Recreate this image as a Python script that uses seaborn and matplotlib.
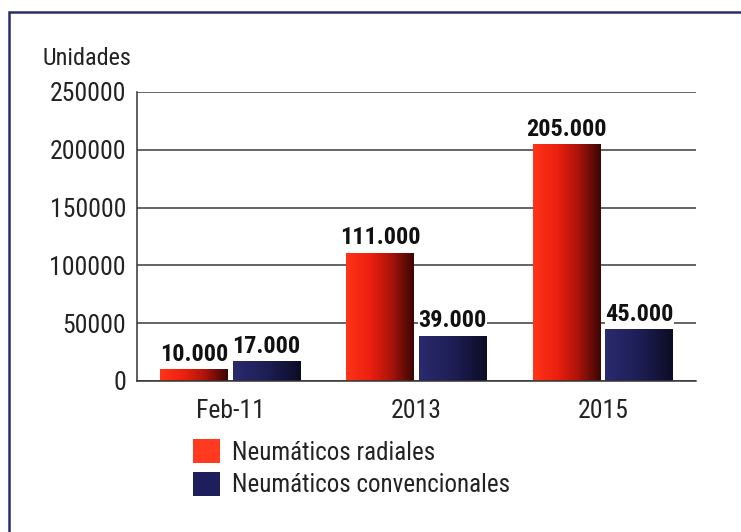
import numpy as np
import pandas as pd
import matplotlib
matplotlib.use("Agg")
import matplotlib.pyplot as plt
import seaborn as sns
from matplotlib.colors import LinearSegmentedColormap
from matplotlib.patches import Rectangle, Patch

# ---- data ----
categories = ["Feb-11", "2013", "2015"]
series_names = ["Neumáticos radiales", "Neumáticos convencionales"]
radiales = [10000, 111000, 205000]
convencionales = [17000, 39000, 45000]
yticks = [0, 50000, 100000, 150000, 200000, 250000]
y_label = "Unidades"

# ---- style ----
sns.set_theme(style="white")
plt.rcParams["font.family"] = ["Roboto Condensed", "Liberation Sans", "DejaVu Sans"]

red_base = "#ff3a1e"
navy_base = "#1e1e5c"
red_cmap = LinearSegmentedColormap.from_list(
    "red", [(0, "#ff3418"), (0.35, "#ec200f"), (0.65, "#b0140a"), (1, "#3a0604")])
navy_cmap = LinearSegmentedColormap.from_list(
    "navy", [(0, "#2a2a70"), (0.5, "#1e1e55"), (1, "#0c0c26")])

df = pd.DataFrame({
    "cat": categories * 2,
    "serie": [series_names[0]] * 3 + [series_names[1]] * 3,
    "val": radiales + convencionales,
})

fig = plt.figure(figsize=(7.41, 5.32), dpi=100)
fig.patch.set_facecolor("white")
ax = fig.add_axes([137 / 741, 1 - 381 / 532, 559 / 741, 289 / 532])

sns.barplot(data=df, x="cat", y="val", hue="serie", order=categories,
            hue_order=series_names, palette=[red_base, navy_base],
            saturation=1, width=0.78, gap=0.07, legend=False, ax=ax,
            edgecolor="none", linewidth=0)

# gradients clipped to each bar + value labels
grad = np.linspace(0, 1, 256).reshape(1, -1)
bars = [p for p in ax.patches if isinstance(p, Rectangle) and p.get_height() > 0]
for p in bars:
    x0, w, h = p.get_x(), p.get_width(), p.get_height()
    fc = matplotlib.colors.to_hex(p.get_facecolor())
    cmap = red_cmap if fc == red_base else navy_cmap
    im = ax.imshow(grad, extent=[x0, x0 + w, 0, h], aspect="auto", cmap=cmap,
                   origin="lower", zorder=p.get_zorder() + 0.1, interpolation="bilinear")
    im.set_clip_path(p)
    lab = f"{h:,.0f}".replace(",", ".")
    ax.annotate(lab, (x0 + w / 2, h), xytext=(0, 2.5), textcoords="offset points",
                ha="center", va="bottom", fontsize=17.5, fontweight="bold",
                color="#111111", zorder=5,
                bbox=dict(facecolor="white", edgecolor="none", pad=0.2))

ax.set_xlim(-0.5, 2.5)
ax.set_ylim(0, 250000)
ax.set_aspect("auto")
ax.set_yticks(yticks)
ax.set_yticklabels([str(t) for t in yticks])
ax.set_xlabel("")
ax.set_ylabel("")
ax.yaxis.grid(True, color="#3a3a3a", linewidth=1.1)
ax.xaxis.grid(False)
ax.set_axisbelow(True)
for s in ["top", "right"]:
    ax.spines[s].set_visible(False)
for s in ["left", "bottom"]:
    ax.spines[s].set_color("#333333")
    ax.spines[s].set_linewidth(1.1)
ax.tick_params(axis="y", length=0, pad=8, labelsize=18.5, labelcolor="#222222")
ax.tick_params(axis="x", which="major", length=0, pad=13, labelsize=18.5, labelcolor="#222222")
ax.set_xticks([0.5, 1.5, 2.5], minor=True)
ax.tick_params(axis="x", which="minor", direction="in", length=6, width=1, color="#333333")

fig.text(43 / 741, 1 - 65 / 532, y_label, fontsize=17.5, color="#222222",
         ha="left", va="baseline")

handles = [Patch(facecolor=red_base, edgecolor="none"),
           Patch(facecolor=navy_base, edgecolor="none")]
fig.legend(handles, series_names, loc="upper left",
           bbox_to_anchor=(193 / 741, 1 - 439 / 532), frameon=False,
           fontsize=18, handlelength=1.07, handleheight=1.1,
           handletextpad=0.5, labelspacing=0.3, borderpad=0,
           borderaxespad=0, labelcolor="#222222")

# outer frame
fig.add_artist(Rectangle((9 / 741, -0.1), 1.2, 1.1 - 12 / 532,
                         transform=fig.transFigure, fill=False,
                         edgecolor="#2b2d6b", linewidth=1.8, zorder=10))

fig.savefig("out.png", dpi=100)
